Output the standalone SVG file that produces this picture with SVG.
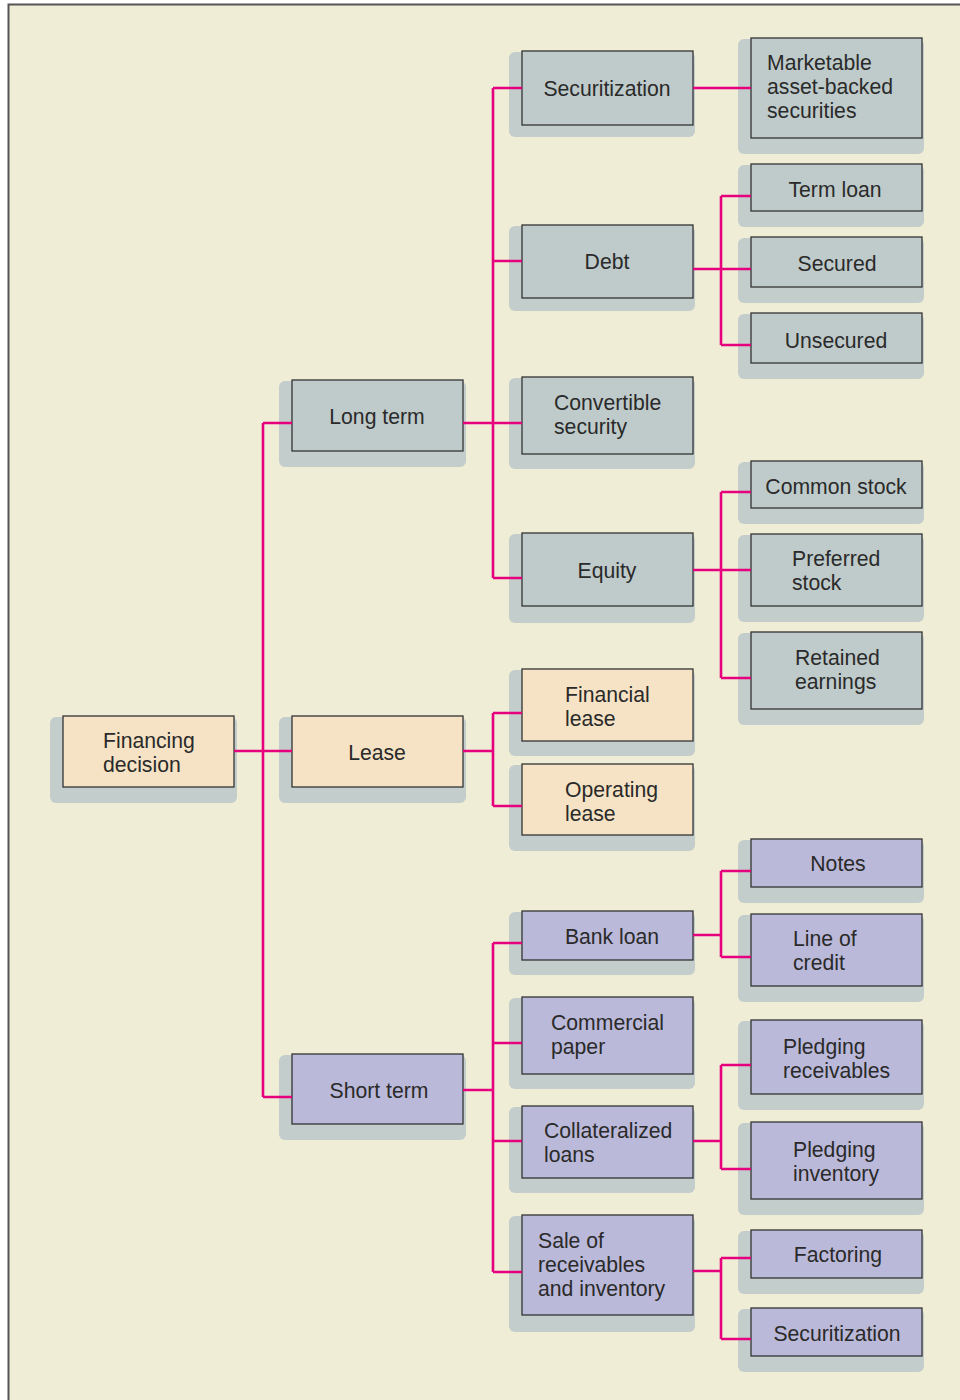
<svg xmlns="http://www.w3.org/2000/svg" width="960" height="1400" viewBox="0 0 960 1400">
<style>
.sh{fill:#C3CDCB}
.n rect.b{stroke:#333;stroke-width:1.3}
.g{fill:#BFCBCA}
.p{fill:#F6E3C5}
.v{fill:#BBB9D9}
text{font-family:"Liberation Sans",Arial,sans-serif;font-size:21.2px;fill:#2A2A2A}
.c{text-anchor:middle}
#connectors path{fill:none;stroke:#E6007E;stroke-width:2.6}
</style>
<rect x="0" y="0" width="960" height="1400" fill="#FFFFFF"/>
<rect x="8" y="4" width="960" height="1400" fill="#F0EDD7"/>
<path d="M8.5 1400 V4.5 H960" fill="none" stroke="#555" stroke-width="2"/>
<g id="financing" class="n"><rect class="sh" x="50" y="717" width="187" height="86" rx="6"/><rect class="b p" x="63" y="716" width="171" height="71"/><text x="103" y="748">Financing</text><text x="103" y="772">decision</text></g>
<g id="longterm" class="n"><rect class="sh" x="279" y="381" width="187" height="86" rx="6"/><rect class="b g" x="292" y="380" width="171" height="71"/><text class="c" x="377" y="424">Long term</text></g>
<g id="lease" class="n"><rect class="sh" x="279" y="717" width="187" height="86" rx="6"/><rect class="b p" x="292" y="716" width="171" height="71"/><text class="c" x="377" y="760">Lease</text></g>
<g id="shortterm" class="n"><rect class="sh" x="279" y="1055" width="187" height="85" rx="6"/><rect class="b v" x="292" y="1054" width="171" height="70"/><text class="c" x="379" y="1098">Short term</text></g>
<g id="securitization1" class="n"><rect class="sh" x="509" y="52" width="186" height="85" rx="6"/><rect class="b g" x="522" y="51" width="171" height="74"/><text class="c" x="607" y="96">Securitization</text></g>
<g id="debt" class="n"><rect class="sh" x="509" y="226" width="186" height="85" rx="6"/><rect class="b g" x="522" y="225" width="171" height="73"/><text class="c" x="607" y="269">Debt</text></g>
<g id="convertible" class="n"><rect class="sh" x="509" y="378" width="186" height="91" rx="6"/><rect class="b g" x="522" y="377" width="171" height="77"/><text x="554" y="410">Convertible</text><text x="554" y="434">security</text></g>
<g id="equity" class="n"><rect class="sh" x="509" y="534" width="186" height="89" rx="6"/><rect class="b g" x="522" y="533" width="171" height="73"/><text class="c" x="607" y="578">Equity</text></g>
<g id="financiallease" class="n"><rect class="sh" x="509" y="670" width="186" height="86" rx="6"/><rect class="b p" x="522" y="669" width="171" height="72"/><text x="565" y="702">Financial</text><text x="565" y="726">lease</text></g>
<g id="operatinglease" class="n"><rect class="sh" x="509" y="765" width="186" height="86" rx="6"/><rect class="b p" x="522" y="764" width="171" height="71"/><text x="565" y="797">Operating</text><text x="565" y="821">lease</text></g>
<g id="bankloan" class="n"><rect class="sh" x="509" y="912" width="186" height="63" rx="6"/><rect class="b v" x="522" y="911" width="171" height="49"/><text class="c" x="612" y="944">Bank loan</text></g>
<g id="commercialpaper" class="n"><rect class="sh" x="509" y="998" width="186" height="91" rx="6"/><rect class="b v" x="522" y="997" width="171" height="77"/><text x="551" y="1030">Commercial</text><text x="551" y="1054">paper</text></g>
<g id="collateralized" class="n"><rect class="sh" x="509" y="1107" width="186" height="86" rx="6"/><rect class="b v" x="522" y="1106" width="171" height="72"/><text x="544" y="1138">Collateralized</text><text x="544" y="1162">loans</text></g>
<g id="saleof" class="n"><rect class="sh" x="509" y="1216" width="186" height="116" rx="6"/><rect class="b v" x="522" y="1215" width="171" height="100"/><text x="538" y="1248">Sale of</text><text x="538" y="1272">receivables</text><text x="538" y="1296">and inventory</text></g>
<g id="marketable" class="n"><rect class="sh" x="738" y="39" width="186" height="115" rx="6"/><rect class="b g" x="751" y="38" width="171" height="100"/><text x="767" y="70">Marketable</text><text x="767" y="94">asset-backed</text><text x="767" y="118">securities</text></g>
<g id="termloan" class="n"><rect class="sh" x="738" y="165" width="186" height="62" rx="6"/><rect class="b g" x="751" y="164" width="171" height="47"/><text class="c" x="835" y="197">Term loan</text></g>
<g id="secured" class="n"><rect class="sh" x="738" y="238" width="186" height="65" rx="6"/><rect class="b g" x="751" y="237" width="171" height="50"/><text class="c" x="837" y="271">Secured</text></g>
<g id="unsecured" class="n"><rect class="sh" x="738" y="314" width="186" height="65" rx="6"/><rect class="b g" x="751" y="313" width="171" height="50"/><text class="c" x="836" y="348">Unsecured</text></g>
<g id="commonstock" class="n"><rect class="sh" x="738" y="462" width="186" height="62" rx="6"/><rect class="b g" x="751" y="461" width="171" height="47"/><text class="c" x="836" y="494">Common stock</text></g>
<g id="preferredstock" class="n"><rect class="sh" x="738" y="535" width="186" height="87" rx="6"/><rect class="b g" x="751" y="534" width="171" height="72"/><text x="792" y="566">Preferred</text><text x="792" y="590">stock</text></g>
<g id="retained" class="n"><rect class="sh" x="738" y="633" width="186" height="92" rx="6"/><rect class="b g" x="751" y="632" width="171" height="77"/><text x="795" y="665">Retained</text><text x="795" y="689">earnings</text></g>
<g id="notes" class="n"><rect class="sh" x="738" y="840" width="186" height="63" rx="6"/><rect class="b v" x="751" y="839" width="171" height="48"/><text class="c" x="838" y="871">Notes</text></g>
<g id="lineofcredit" class="n"><rect class="sh" x="738" y="915" width="186" height="87" rx="6"/><rect class="b v" x="751" y="914" width="171" height="72"/><text x="793" y="946">Line of</text><text x="793" y="970">credit</text></g>
<g id="pledgingrec" class="n"><rect class="sh" x="738" y="1021" width="186" height="89" rx="6"/><rect class="b v" x="751" y="1020" width="171" height="74"/><text x="783" y="1054">Pledging</text><text x="783" y="1078">receivables</text></g>
<g id="pledginginv" class="n"><rect class="sh" x="738" y="1123" width="186" height="92" rx="6"/><rect class="b v" x="751" y="1122" width="171" height="77"/><text x="793" y="1157">Pledging</text><text x="793" y="1181">inventory</text></g>
<g id="factoring" class="n"><rect class="sh" x="738" y="1231" width="186" height="63" rx="6"/><rect class="b v" x="751" y="1230" width="171" height="48"/><text class="c" x="838" y="1262">Factoring</text></g>
<g id="securitization2" class="n"><rect class="sh" x="738" y="1309" width="186" height="63" rx="6"/><rect class="b v" x="751" y="1308" width="171" height="48"/><text class="c" x="837" y="1341">Securitization</text></g>
<g id="connectors">
<path d="M234 751 H292 M263 423 V1097 M263 423 H292 M263 1097 H292"/>
<path d="M463 423 H522 M493 88 V578 M493 88 H522 M493 261 H522 M493 578 H522"/>
<path d="M463 751 H493 M493 713 V806 M493 713 H522 M493 806 H522"/>
<path d="M463 1090 H493 M493 943 V1272 M493 943 H522 M493 1043 H522 M493 1141 H522 M493 1272 H522"/>
<path d="M693 88 H751"/>
<path d="M693 269 H751 M721 196 V345 M721 196 H751 M721 345 H751"/>
<path d="M693 570 H751 M721 492 V678 M721 492 H751 M721 678 H751"/>
<path d="M693 935 H721 M721 871 V957 M721 871 H751 M721 957 H751"/>
<path d="M693 1141 H721 M721 1065 V1169 M721 1065 H751 M721 1169 H751"/>
<path d="M693 1271 H721 M721 1258 V1339 M721 1258 H751 M721 1339 H751"/>
</g>
</svg>
